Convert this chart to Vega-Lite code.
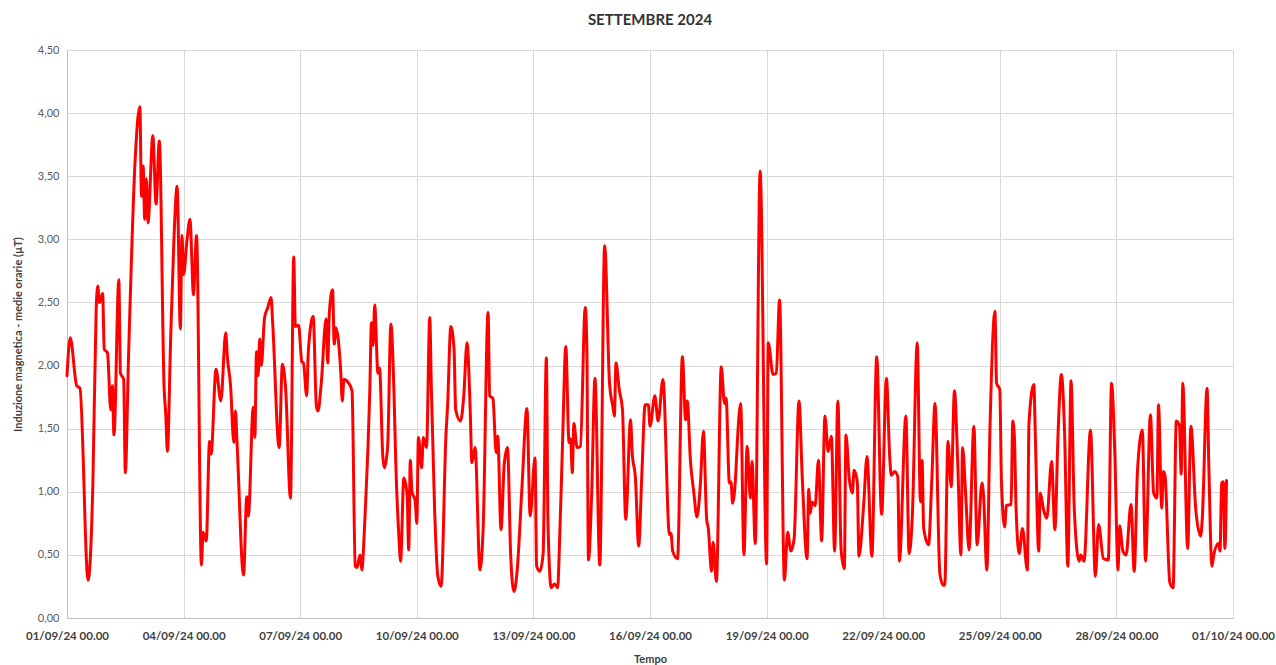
{
  "$schema": "https://vega.github.io/schema/vega-lite/v6.json",
  "autosize": {"type": "fit", "contains": "padding"},
  "width": 1276,
  "height": 665,
  "padding": {"left": 12, "top": 13, "right": 1, "bottom": 0},
  "background": "white",
  "title": {"text": "SETTEMBRE 2024", "fontSize": 15, "fontWeight": "bold", "font": "Lato", "color": "#333333", "anchor": "middle", "offset": 16},
  "config": {"view": {"stroke": null}, "font": "Lato"},
  "data": {"values": [
{"t":"2024-09-01T00:00","v":1.92},{"t":"2024-09-01T02:00","v":2.22},{"t":"2024-09-01T06:00","v":1.84},{"t":"2024-09-01T08:00","v":1.82},{"t":"2024-09-01T13:00","v":0.30},{"t":"2024-09-01T16:00","v":1.08},{"t":"2024-09-01T18:00","v":2.44},{"t":"2024-09-01T19:00","v":2.63},{"t":"2024-09-01T20:00","v":2.50},{"t":"2024-09-01T22:00","v":2.57},{"t":"2024-09-01T23:00","v":2.13},
{"t":"2024-09-02T01:00","v":2.10},{"t":"2024-09-02T03:00","v":1.65},{"t":"2024-09-02T04:00","v":1.84},{"t":"2024-09-02T05:00","v":1.45},{"t":"2024-09-02T08:00","v":2.68},{"t":"2024-09-02T09:00","v":1.94},{"t":"2024-09-02T11:00","v":1.89},{"t":"2024-09-02T12:00","v":1.15},{"t":"2024-09-02T14:00","v":2.07},{"t":"2024-09-02T18:00","v":3.61},{"t":"2024-09-02T21:00","v":4.05},{"t":"2024-09-02T22:00","v":3.34},{"t":"2024-09-02T23:00","v":3.58},
{"t":"2024-09-03T00:00","v":3.16},{"t":"2024-09-03T01:00","v":3.48},{"t":"2024-09-03T02:00","v":3.13},{"t":"2024-09-03T05:00","v":3.82},{"t":"2024-09-03T07:00","v":3.28},{"t":"2024-09-03T09:00","v":3.78},{"t":"2024-09-03T12:00","v":1.81},{"t":"2024-09-03T13:00","v":1.61},{"t":"2024-09-03T14:00","v":1.32},{"t":"2024-09-03T16:00","v":2.21},{"t":"2024-09-03T18:00","v":2.99},{"t":"2024-09-03T20:00","v":3.42},{"t":"2024-09-03T22:00","v":2.29},{"t":"2024-09-03T23:00","v":3.03},
{"t":"2024-09-04T00:00","v":2.72},{"t":"2024-09-04T02:00","v":2.98},{"t":"2024-09-04T04:00","v":3.16},{"t":"2024-09-04T05:00","v":2.87},{"t":"2024-09-04T06:00","v":2.56},{"t":"2024-09-04T08:00","v":3.03},{"t":"2024-09-04T11:00","v":0.42},{"t":"2024-09-04T12:00","v":0.68},{"t":"2024-09-04T14:00","v":0.61},{"t":"2024-09-04T16:00","v":1.40},{"t":"2024-09-04T17:00","v":1.30},{"t":"2024-09-04T20:00","v":1.97},{"t":"2024-09-04T23:00","v":1.72},
{"t":"2024-09-05T02:00","v":2.26},{"t":"2024-09-05T03:00","v":2.07},{"t":"2024-09-05T05:00","v":1.84},{"t":"2024-09-05T07:00","v":1.39},{"t":"2024-09-05T08:00","v":1.64},{"t":"2024-09-05T09:00","v":1.39},{"t":"2024-09-05T13:00","v":0.34},{"t":"2024-09-05T15:00","v":0.96},{"t":"2024-09-05T16:00","v":0.81},{"t":"2024-09-05T19:00","v":1.67},{"t":"2024-09-05T20:00","v":1.43},{"t":"2024-09-05T21:00","v":2.11},{"t":"2024-09-05T22:00","v":1.92},{"t":"2024-09-05T23:00","v":2.21},
{"t":"2024-09-06T00:00","v":2.00},{"t":"2024-09-06T02:00","v":2.38},{"t":"2024-09-06T04:00","v":2.46},{"t":"2024-09-06T06:00","v":2.54},{"t":"2024-09-06T07:00","v":2.34},{"t":"2024-09-06T11:00","v":1.35},{"t":"2024-09-06T13:00","v":2.01},{"t":"2024-09-06T15:00","v":1.82},{"t":"2024-09-06T18:00","v":0.95},{"t":"2024-09-06T20:00","v":2.86},{"t":"2024-09-06T21:00","v":2.31},{"t":"2024-09-06T23:00","v":2.32},
{"t":"2024-09-07T01:00","v":2.03},{"t":"2024-09-07T02:00","v":2.02},{"t":"2024-09-07T04:00","v":1.76},{"t":"2024-09-07T05:00","v":2.11},{"t":"2024-09-07T08:00","v":2.39},{"t":"2024-09-07T10:00","v":1.68},{"t":"2024-09-07T11:00","v":1.64},{"t":"2024-09-07T13:00","v":1.86},{"t":"2024-09-07T16:00","v":2.37},{"t":"2024-09-07T17:00","v":2.02},{"t":"2024-09-07T18:00","v":2.42},{"t":"2024-09-07T20:00","v":2.60},{"t":"2024-09-07T21:00","v":2.17},{"t":"2024-09-07T22:00","v":2.30},
{"t":"2024-09-08T01:00","v":1.96},{"t":"2024-09-08T02:00","v":1.72},{"t":"2024-09-08T03:00","v":1.89},{"t":"2024-09-08T06:00","v":1.86},{"t":"2024-09-08T08:00","v":1.80},{"t":"2024-09-08T10:00","v":0.41},{"t":"2024-09-08T11:00","v":0.40},{"t":"2024-09-08T13:00","v":0.50},{"t":"2024-09-08T14:00","v":0.38},{"t":"2024-09-08T16:00","v":0.80},{"t":"2024-09-08T19:00","v":1.81},{"t":"2024-09-08T20:00","v":2.34},{"t":"2024-09-08T21:00","v":2.16},{"t":"2024-09-08T22:00","v":2.48},
{"t":"2024-09-09T00:00","v":1.94},{"t":"2024-09-09T01:00","v":1.98},{"t":"2024-09-09T03:00","v":1.28},{"t":"2024-09-09T04:00","v":1.19},{"t":"2024-09-09T06:00","v":1.36},{"t":"2024-09-09T08:00","v":2.33},{"t":"2024-09-09T10:00","v":1.74},{"t":"2024-09-09T11:00","v":1.24},{"t":"2024-09-09T13:00","v":0.63},{"t":"2024-09-09T14:00","v":0.45},{"t":"2024-09-09T16:00","v":1.11},{"t":"2024-09-09T18:00","v":0.98},{"t":"2024-09-09T19:00","v":0.54},{"t":"2024-09-09T20:00","v":1.25},{"t":"2024-09-09T21:00","v":1.00},{"t":"2024-09-09T23:00","v":0.93},
{"t":"2024-09-10T00:00","v":0.75},{"t":"2024-09-10T01:00","v":1.43},{"t":"2024-09-10T03:00","v":1.19},{"t":"2024-09-10T04:00","v":1.43},{"t":"2024-09-10T06:00","v":1.35},{"t":"2024-09-10T08:00","v":2.38},{"t":"2024-09-10T09:00","v":1.81},{"t":"2024-09-10T11:00","v":0.86},{"t":"2024-09-10T13:00","v":0.33},{"t":"2024-09-10T15:00","v":0.25},{"t":"2024-09-10T18:00","v":1.45},{"t":"2024-09-10T19:00","v":1.68},{"t":"2024-09-10T21:00","v":2.31},{"t":"2024-09-10T23:00","v":2.13},
{"t":"2024-09-11T00:00","v":1.65},{"t":"2024-09-11T03:00","v":1.56},{"t":"2024-09-11T05:00","v":1.76},{"t":"2024-09-11T07:00","v":2.18},{"t":"2024-09-11T09:00","v":1.64},{"t":"2024-09-11T10:00","v":1.23},{"t":"2024-09-11T12:00","v":1.35},{"t":"2024-09-11T15:00","v":0.38},{"t":"2024-09-11T17:00","v":0.72},{"t":"2024-09-11T20:00","v":2.42},{"t":"2024-09-11T21:00","v":1.76},{"t":"2024-09-11T23:00","v":1.74},
{"t":"2024-09-12T01:00","v":1.31},{"t":"2024-09-12T02:00","v":1.44},{"t":"2024-09-12T04:00","v":0.70},{"t":"2024-09-12T06:00","v":1.22},{"t":"2024-09-12T08:00","v":1.35},{"t":"2024-09-12T10:00","v":0.49},{"t":"2024-09-12T12:00","v":0.21},{"t":"2024-09-12T14:00","v":0.38},{"t":"2024-09-12T17:00","v":1.05},{"t":"2024-09-12T20:00","v":1.66},{"t":"2024-09-12T22:00","v":0.81},
{"t":"2024-09-13T01:00","v":1.27},{"t":"2024-09-13T02:00","v":0.41},{"t":"2024-09-13T04:00","v":0.37},{"t":"2024-09-13T06:00","v":0.51},{"t":"2024-09-13T08:00","v":2.06},{"t":"2024-09-13T09:00","v":0.75},{"t":"2024-09-13T11:00","v":0.24},{"t":"2024-09-13T13:00","v":0.27},{"t":"2024-09-13T15:00","v":0.24},{"t":"2024-09-13T16:00","v":0.54},{"t":"2024-09-13T18:00","v":1.39},{"t":"2024-09-13T20:00","v":2.15},{"t":"2024-09-13T22:00","v":1.39},{"t":"2024-09-13T23:00","v":1.42},
{"t":"2024-09-14T00:00","v":1.15},{"t":"2024-09-14T01:00","v":1.54},{"t":"2024-09-14T03:00","v":1.35},{"t":"2024-09-14T05:00","v":1.36},{"t":"2024-09-14T08:00","v":2.46},{"t":"2024-09-14T09:00","v":2.15},{"t":"2024-09-14T10:00","v":0.46},{"t":"2024-09-14T12:00","v":0.99},{"t":"2024-09-14T14:00","v":1.90},{"t":"2024-09-14T17:00","v":0.42},{"t":"2024-09-14T20:00","v":2.95},{"t":"2024-09-14T23:00","v":1.86},
{"t":"2024-09-15T01:00","v":1.68},{"t":"2024-09-15T02:00","v":1.60},{"t":"2024-09-15T03:00","v":2.02},{"t":"2024-09-15T05:00","v":1.81},{"t":"2024-09-15T07:00","v":1.65},{"t":"2024-09-15T09:00","v":0.78},{"t":"2024-09-15T12:00","v":1.57},{"t":"2024-09-15T13:00","v":1.31},{"t":"2024-09-15T15:00","v":1.11},{"t":"2024-09-15T17:00","v":0.57},{"t":"2024-09-15T19:00","v":1.15},{"t":"2024-09-15T21:00","v":1.69},{"t":"2024-09-15T23:00","v":1.69},
{"t":"2024-09-16T00:00","v":1.52},{"t":"2024-09-16T03:00","v":1.76},{"t":"2024-09-16T05:00","v":1.56},{"t":"2024-09-16T08:00","v":1.89},{"t":"2024-09-16T12:00","v":0.66},{"t":"2024-09-16T13:00","v":0.67},{"t":"2024-09-16T14:00","v":0.53},{"t":"2024-09-16T17:00","v":0.47},{"t":"2024-09-16T20:00","v":2.07},{"t":"2024-09-16T22:00","v":1.57},{"t":"2024-09-16T23:00","v":1.72},
{"t":"2024-09-17T01:00","v":1.24},{"t":"2024-09-17T03:00","v":1.00},{"t":"2024-09-17T05:00","v":0.80},{"t":"2024-09-17T07:00","v":1.04},{"t":"2024-09-17T09:00","v":1.48},{"t":"2024-09-17T11:00","v":0.78},{"t":"2024-09-17T12:00","v":0.71},{"t":"2024-09-17T14:00","v":0.37},{"t":"2024-09-17T15:00","v":0.60},{"t":"2024-09-17T17:00","v":0.29},{"t":"2024-09-17T20:00","v":1.99},{"t":"2024-09-17T22:00","v":1.70},{"t":"2024-09-17T23:00","v":1.74},
{"t":"2024-09-18T01:00","v":1.07},{"t":"2024-09-18T02:00","v":1.08},{"t":"2024-09-18T03:00","v":0.91},{"t":"2024-09-18T05:00","v":1.15},{"t":"2024-09-18T06:00","v":1.41},{"t":"2024-09-18T08:00","v":1.70},{"t":"2024-09-18T10:00","v":0.50},{"t":"2024-09-18T12:00","v":1.36},{"t":"2024-09-18T14:00","v":0.95},{"t":"2024-09-18T15:00","v":1.24},{"t":"2024-09-18T17:00","v":0.59},{"t":"2024-09-18T20:00","v":3.54},
{"t":"2024-09-19T00:00","v":0.43},{"t":"2024-09-19T01:00","v":2.18},{"t":"2024-09-19T04:00","v":1.93},{"t":"2024-09-19T06:00","v":1.94},{"t":"2024-09-19T08:00","v":2.52},{"t":"2024-09-19T11:00","v":0.30},{"t":"2024-09-19T13:00","v":0.68},{"t":"2024-09-19T15:00","v":0.53},{"t":"2024-09-19T17:00","v":0.63},{"t":"2024-09-19T20:00","v":1.72},{"t":"2024-09-19T22:00","v":1.12},
{"t":"2024-09-20T01:00","v":0.47},{"t":"2024-09-20T02:00","v":1.02},{"t":"2024-09-20T03:00","v":0.83},{"t":"2024-09-20T04:00","v":0.92},{"t":"2024-09-20T06:00","v":0.89},{"t":"2024-09-20T08:00","v":1.25},{"t":"2024-09-20T10:00","v":0.61},{"t":"2024-09-20T12:00","v":1.60},{"t":"2024-09-20T14:00","v":1.32},{"t":"2024-09-20T16:00","v":1.44},{"t":"2024-09-20T18:00","v":0.53},{"t":"2024-09-20T20:00","v":1.72},{"t":"2024-09-20T22:00","v":0.54},
{"t":"2024-09-21T00:00","v":0.39},{"t":"2024-09-21T01:00","v":1.45},{"t":"2024-09-21T03:00","v":1.11},{"t":"2024-09-21T05:00","v":0.99},{"t":"2024-09-21T06:00","v":1.17},{"t":"2024-09-21T08:00","v":1.08},{"t":"2024-09-21T09:00","v":0.49},{"t":"2024-09-21T12:00","v":0.91},{"t":"2024-09-21T14:00","v":1.28},{"t":"2024-09-21T17:00","v":0.49},{"t":"2024-09-21T20:00","v":2.07},{"t":"2024-09-21T23:00","v":0.82},
{"t":"2024-09-22T02:00","v":1.90},{"t":"2024-09-22T04:00","v":1.28},{"t":"2024-09-22T05:00","v":1.13},{"t":"2024-09-22T07:00","v":1.16},{"t":"2024-09-22T09:00","v":1.12},{"t":"2024-09-22T10:00","v":0.45},{"t":"2024-09-22T14:00","v":1.60},{"t":"2024-09-22T16:00","v":0.51},{"t":"2024-09-22T18:00","v":0.81},{"t":"2024-09-22T21:00","v":2.18},{"t":"2024-09-22T23:00","v":0.92},
{"t":"2024-09-23T00:00","v":1.25},{"t":"2024-09-23T01:00","v":0.71},{"t":"2024-09-23T04:00","v":0.58},{"t":"2024-09-23T06:00","v":1.09},{"t":"2024-09-23T08:00","v":1.70},{"t":"2024-09-23T11:00","v":0.35},{"t":"2024-09-23T13:00","v":0.26},{"t":"2024-09-23T14:00","v":0.26},{"t":"2024-09-23T16:00","v":1.40},{"t":"2024-09-23T18:00","v":1.04},{"t":"2024-09-23T20:00","v":1.80},{"t":"2024-09-23T22:00","v":1.24},
{"t":"2024-09-24T00:00","v":0.50},{"t":"2024-09-24T01:00","v":1.35},{"t":"2024-09-24T03:00","v":0.96},{"t":"2024-09-24T05:00","v":0.54},{"t":"2024-09-24T08:00","v":1.52},{"t":"2024-09-24T10:00","v":0.58},{"t":"2024-09-24T13:00","v":1.07},{"t":"2024-09-24T14:00","v":0.96},{"t":"2024-09-24T16:00","v":0.38},{"t":"2024-09-24T18:00","v":1.54},{"t":"2024-09-24T21:00","v":2.43},{"t":"2024-09-24T22:00","v":1.86},
{"t":"2024-09-25T00:00","v":1.81},{"t":"2024-09-25T01:00","v":1.09},{"t":"2024-09-25T03:00","v":0.72},{"t":"2024-09-25T04:00","v":0.89},{"t":"2024-09-25T07:00","v":0.90},{"t":"2024-09-25T08:00","v":1.56},{"t":"2024-09-25T09:00","v":1.44},{"t":"2024-09-25T10:00","v":0.89},{"t":"2024-09-25T12:00","v":0.51},{"t":"2024-09-25T14:00","v":0.71},{"t":"2024-09-25T17:00","v":0.38},{"t":"2024-09-25T18:00","v":1.54},{"t":"2024-09-25T21:00","v":1.85},{"t":"2024-09-25T22:00","v":1.41},
{"t":"2024-09-26T00:00","v":0.53},{"t":"2024-09-26T01:00","v":0.99},{"t":"2024-09-26T03:00","v":0.86},{"t":"2024-09-26T05:00","v":0.79},{"t":"2024-09-26T08:00","v":1.24},{"t":"2024-09-26T10:00","v":0.70},{"t":"2024-09-26T12:00","v":1.47},{"t":"2024-09-26T14:00","v":1.93},{"t":"2024-09-26T16:00","v":1.47},{"t":"2024-09-26T18:00","v":0.41},{"t":"2024-09-26T20:00","v":1.88},{"t":"2024-09-26T22:00","v":0.86},
{"t":"2024-09-27T01:00","v":0.45},{"t":"2024-09-27T02:00","v":0.50},{"t":"2024-09-27T04:00","v":0.45},{"t":"2024-09-27T08:00","v":1.49},{"t":"2024-09-27T11:00","v":0.33},{"t":"2024-09-27T13:00","v":0.74},{"t":"2024-09-27T16:00","v":0.47},{"t":"2024-09-27T19:00","v":0.46},{"t":"2024-09-27T21:00","v":1.86},{"t":"2024-09-27T23:00","v":1.32},
{"t":"2024-09-28T01:00","v":0.38},{"t":"2024-09-28T02:00","v":0.73},{"t":"2024-09-28T04:00","v":0.53},{"t":"2024-09-28T06:00","v":0.50},{"t":"2024-09-28T09:00","v":0.90},{"t":"2024-09-28T11:00","v":0.37},{"t":"2024-09-28T13:00","v":1.16},{"t":"2024-09-28T16:00","v":1.49},{"t":"2024-09-28T18:00","v":0.45},{"t":"2024-09-28T21:00","v":1.61},{"t":"2024-09-28T23:00","v":0.99},
{"t":"2024-09-29T01:00","v":0.95},{"t":"2024-09-29T02:00","v":1.69},{"t":"2024-09-29T04:00","v":0.87},{"t":"2024-09-29T05:00","v":1.16},{"t":"2024-09-29T06:00","v":1.13},{"t":"2024-09-29T09:00","v":0.28},{"t":"2024-09-29T11:00","v":0.24},{"t":"2024-09-29T13:00","v":1.56},{"t":"2024-09-29T15:00","v":1.52},{"t":"2024-09-29T16:00","v":1.14},{"t":"2024-09-29T17:00","v":1.86},{"t":"2024-09-29T20:00","v":0.55},{"t":"2024-09-29T22:00","v":1.52},
{"t":"2024-09-30T01:00","v":0.86},{"t":"2024-09-30T04:00","v":0.65},{"t":"2024-09-30T05:00","v":0.78},{"t":"2024-09-30T08:00","v":1.82},{"t":"2024-09-30T09:00","v":1.25},{"t":"2024-09-30T11:00","v":0.41},{"t":"2024-09-30T12:00","v":0.49},{"t":"2024-09-30T15:00","v":0.59},{"t":"2024-09-30T16:00","v":0.53},{"t":"2024-09-30T17:00","v":1.07},{"t":"2024-09-30T18:00","v":1.08},{"t":"2024-09-30T19:00","v":0.55},{"t":"2024-09-30T20:00","v":1.09}
  ]},
  "mark": {"type": "line", "color": "#ff0000", "strokeWidth": 3, "interpolate": "monotone", "strokeJoin": "round", "strokeCap": "round"},
  "encoding": {
    "x": {
      "field": "t", "type": "temporal",
      "scale": {"domain": [{"year": 2024, "month": "September", "date": 1}, {"year": 2024, "month": "October", "date": 1}]},
      "axis": {
        "title": "Tempo",
        "titleFont": "Lato", "titleFontSize": 11, "titleFontWeight": "bold", "titleColor": "#404040", "titlePadding": 12,
        "values": [
          {"year": 2024, "month": "September", "date": 1},
          {"year": 2024, "month": "September", "date": 4},
          {"year": 2024, "month": "September", "date": 7},
          {"year": 2024, "month": "September", "date": 10},
          {"year": 2024, "month": "September", "date": 13},
          {"year": 2024, "month": "September", "date": 16},
          {"year": 2024, "month": "September", "date": 19},
          {"year": 2024, "month": "September", "date": 22},
          {"year": 2024, "month": "September", "date": 25},
          {"year": 2024, "month": "September", "date": 28},
          {"year": 2024, "month": "October", "date": 1}
        ],
        "format": "%d/%m/%y %H.%M",
        "labelFont": "Lato", "labelFontSize": 11.5, "labelFontWeight": "bold", "labelColor": "#404040",
        "labelPadding": 12, "labelAngle": 0, "labelOverlap": false, "labelFlush": false,
        "ticks": false, "domainColor": "#bfbfbf", "gridColor": "#d9d9d9", "grid": true
      }
    },
    "y": {
      "field": "v", "type": "quantitative",
      "scale": {"domain": [0, 4.5], "nice": false},
      "axis": {
        "title": "Induzione magnetica - medie orarie (µT)",
        "titleFont": "Lato", "titleFontSize": 11, "titleFontWeight": "bold", "titleColor": "#404040", "titlePadding": 14,
        "values": [0, 0.5, 1, 1.5, 2, 2.5, 3, 3.5, 4, 4.5],
        "labelExpr": "replace(format(datum.value, '.2f'), '.', ',')",
        "labelFont": "Lato", "labelFontSize": 11, "labelColor": "#595959", "labelPadding": 8,
        "ticks": false, "domainColor": "#bfbfbf", "gridColor": "#d9d9d9", "grid": true
      }
    }
  }
}
